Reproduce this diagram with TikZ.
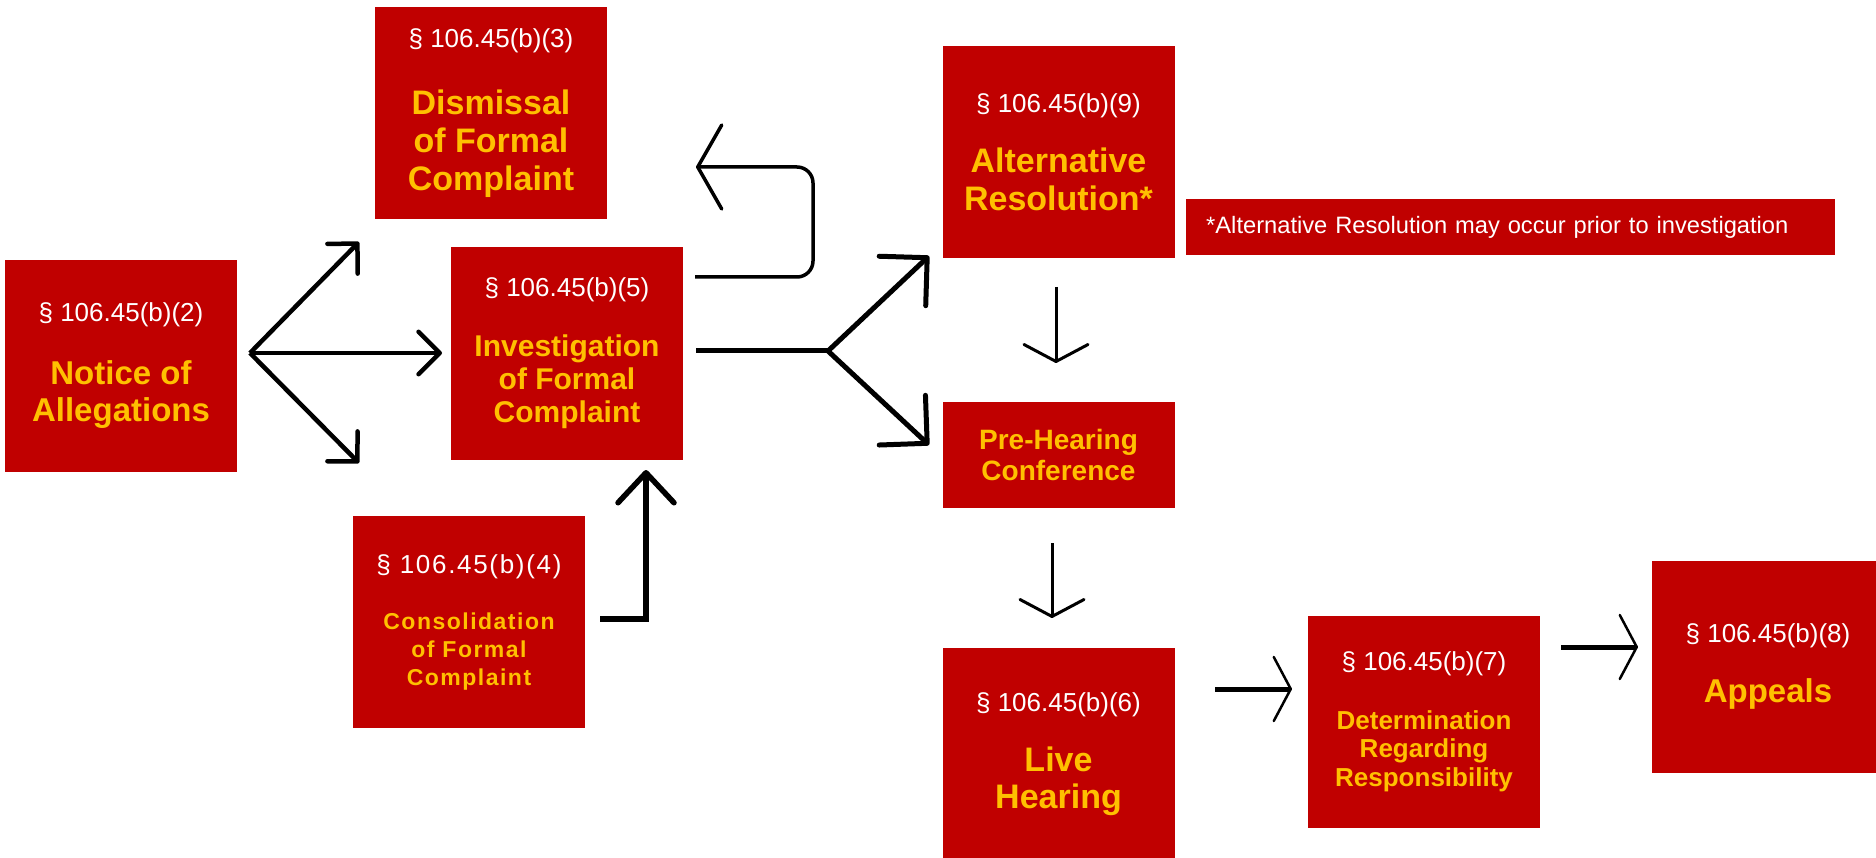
\documentclass[tikz,border=0pt]{standalone}
\usepackage{fontspec}
\setmainfont{Liberation Sans}
\newfontfamily\spacedfont[LetterSpace=6.5]{Liberation Sans}
\usepackage{tikz}
\usetikzlibrary{positioning}
\usetikzlibrary{arrows.meta}
\definecolor{boxred}{RGB}{192,0,0}
\definecolor{boxgold}{RGB}{255,192,0}
\newcommand{\seccode}[1]{{\color{white}\fontsize{26}{30}\selectfont\mdseries #1}}
\newcommand{\tsize}[2]{\fontsize{#1}{#2}\selectfont\bfseries}

\begin{document}
\begin{tikzpicture}
[
x=1pt, y=-1pt,
box-a/.style={rectangle,fill=boxred,inner sep=0pt,minimum width=232pt,minimum height=212pt,align=center,text=boxgold},
note-a/.style={rectangle,fill=boxred,inner xsep=20pt,inner ysep=0pt,minimum height=56pt,text width=609pt,align=left,text=white,font=\fontsize{23.7}{28}\selectfont},
arrow-a/.style={line width=4.5pt,-{Straight Barb[round,angle=90:30pt]}},
arrow-b/.style={line width=5pt,-{Straight Barb[round,angle=90:48pt]}},
arrow-c/.style={line width=3pt,-{Straight Barb[round,length=17pt,width=64pt]}},
arrow-d/.style={line width=5pt,-{Straight Barb[round,length=17pt,width=64pt,line width=2.5pt]}},
]
\useasboundingbox (0,0) rectangle (1876,858);
\clip (0,0) rectangle (1876,858);
% boxes
\node (b1) [box-a, font=\tsize{33}{37}] at (121,366)   {\seccode{§ 106.45(b)(2)}\\[26pt]Notice of\\Allegations};
\node (b2) [box-a, font=\tsize{34}{38}] at (491,113.5) {\seccode{§ 106.45(b)(3)}\\[29pt]Dismissal\\of Formal\\Complaint};
\node (b3) [box-a, font=\tsize{30}{33}] at (567,353.5) {\seccode{§ 106.45(b)(5)}\\[27pt]Investigation\\of Formal\\Complaint};
\node (b4) [box-a, font=\spacedfont\tsize{23}{28}] at (469,622) {\seccode{§ 106.45(b)(4)}\\[28pt]Consolidation\\of Formal\\Complaint};
\node (b5) [box-a, font=\tsize{34}{38}] at (1058.5,152.5) {\seccode{§ 106.45(b)(9)}\\[22pt]Alternative\\Resolution*};
\node (n1) [note-a, anchor=west] at (1186,227) {*Alternative Resolution may occur prior to investigation};
\node (b6) [box-a, font=\tsize{28}{31}, minimum height=106pt, below = 143pt of b5] {Pre-Hearing\\Conference};
\node (b7) [box-a, font=\tsize{34}{37}, below = 140pt of b6] {\seccode{§ 106.45(b)(6)}\\[23pt]Live\\Hearing};
\node (b8) [box-a, font=\tsize{26}{28.5}] at (1424,722) {\seccode{§ 106.45(b)(7)}\\[30pt]Determination\\Regarding\\Responsibility};
\node (b9) [box-a, font=\tsize{33}{38}] at (1768,666.5) {\seccode{§ 106.45(b)(8)}\\[21pt]Appeals};
% arrow ends
\coordinate (c1) at (250,353);
\coordinate (t1) at (359,242);
\coordinate (t2) at (442,353);
\coordinate (t3) at (359,463);
\coordinate (c2) at (696,351);
\coordinate (c3) at (828,351);
\coordinate (t4) at (929,256);
\coordinate (t5) at (929,445);
\coordinate (c4) at (695,277);
\coordinate (c5) at (813,167);
\coordinate (t6) at (696,167);
\coordinate (c6) at (600,619);
\coordinate (t7) at (646,470);
\coordinate (c7) at (1056,287);
\coordinate (t8) at (1056,363);
\coordinate (c8) at (1052,543);
\coordinate (t9) at (1052,618);
\coordinate (c9) at (1215,689);
\coordinate (t10) at (1292,689);
\coordinate (c10) at (1561,647);
\coordinate (t11) at (1638,647);
% arrows
\draw [arrow-a] (c1) -- (t1);
\draw [arrow-a] (c1) -- (t2);
\draw [arrow-a] (c1) -- (t3);
\draw [line width=5pt] (c2) -- (c3);
\draw [arrow-b] (c3) -- (t4);
\draw [arrow-b] (c3) -- (t5);
\draw [line width=3.5pt, rounded corners=16pt, -{Straight Barb[round,length=24pt,width=84pt]}] (c4) -| (c5) -- (t6);
\draw [line width=5.5pt, -{Straight Barb[round,length=30pt,width=56pt]}] (c6) -| (t7);
\draw [arrow-c] (c7) -- (t8);
\draw [arrow-c] (c8) -- (t9);
\draw [arrow-d] (c9) -- (t10);
\draw [arrow-d] (c10) -- (t11);
\end{tikzpicture}
\end{document}
